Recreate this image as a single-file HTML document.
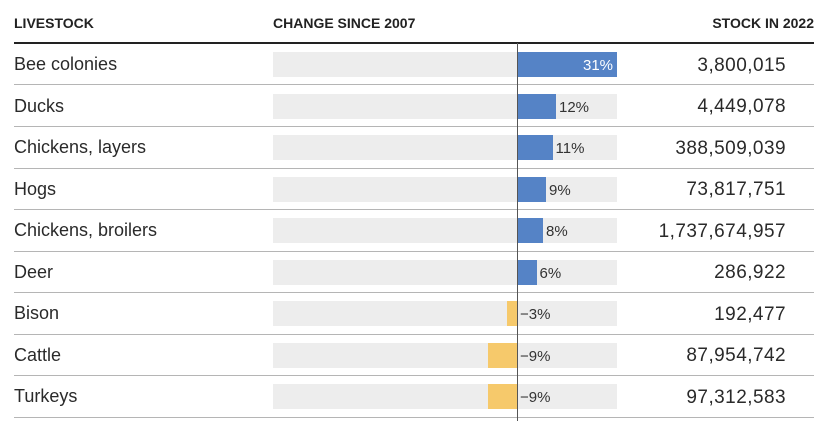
<!DOCTYPE html>
<html><head><meta charset="utf-8"><style>
*{margin:0;padding:0;box-sizing:border-box}
html,body{width:834px;height:421px;background:#fff;overflow:hidden}
body{position:relative;font-family:"Liberation Sans",Arial,sans-serif;color:#2a2a2a}
.h{position:absolute;top:16px;height:14px;line-height:14px;font-size:14px;font-weight:bold;color:#222;white-space:nowrap}
.hl{position:absolute;left:14px;width:800px;top:42px;height:2px;background:#222}
.sep{position:absolute;left:14px;width:800px;height:1px;background:#b5b5b5}
.name{position:absolute;left:14px;font-size:18px;white-space:nowrap}
.num{position:absolute;right:48px;font-size:19px;letter-spacing:0.45px;white-space:nowrap;text-align:right;margin-top:1.5px}
.bg{position:absolute;left:273px;width:344px;height:25px;background:#ededed}
.bar{position:absolute;height:25px}
.pos{background:#5583c6}
.neg{background:#f6c96b}
.lab{position:absolute;font-size:15px;white-space:nowrap;color:#333;margin-top:2px}
.axis{position:absolute;left:516.5px;top:43px;width:1px;height:378px;background:#555}
</style></head><body>
<div class="h" style="left:14px">LIVESTOCK</div>
<div class="h" style="left:273px">CHANGE SINCE 2007</div>
<div class="h" style="right:20px">STOCK IN 2022</div>
<div class="hl"></div>

<div class="name" style="top:43px;height:41.5px;line-height:42px">Bee colonies</div>
<div class="bg" style="top:52px"></div>
<div class="bar pos" style="top:52px;left:517px;width:100px"></div>
<div class="lab" style="top:43px;line-height:42px;left:583px;color:#fff">31%</div>
<div class="num" style="top:43px;line-height:42px">3,800,015</div>
<div class="sep" style="top:84px"></div>

<div class="name" style="top:84.5px;line-height:42px">Ducks</div>
<div class="bg" style="top:93.5px"></div>
<div class="bar pos" style="top:93.5px;left:517px;width:39px"></div>
<div class="lab" style="top:84.5px;line-height:42px;left:559px">12%</div>
<div class="num" style="top:84.5px;line-height:42px">4,449,078</div>
<div class="sep" style="top:126px"></div>

<div class="name" style="top:126px;line-height:42px">Chickens, layers</div>
<div class="bg" style="top:135px"></div>
<div class="bar pos" style="top:135px;left:517px;width:35.5px"></div>
<div class="lab" style="top:126px;line-height:42px;left:555.5px">11%</div>
<div class="num" style="top:126px;line-height:42px">388,509,039</div>
<div class="sep" style="top:167.5px"></div>

<div class="name" style="top:167.5px;line-height:42px">Hogs</div>
<div class="bg" style="top:176.5px"></div>
<div class="bar pos" style="top:176.5px;left:517px;width:29px"></div>
<div class="lab" style="top:167.5px;line-height:42px;left:549px">9%</div>
<div class="num" style="top:167.5px;line-height:42px">73,817,751</div>
<div class="sep" style="top:209px"></div>

<div class="name" style="top:209px;line-height:42px">Chickens, broilers</div>
<div class="bg" style="top:218px"></div>
<div class="bar pos" style="top:218px;left:517px;width:26px"></div>
<div class="lab" style="top:209px;line-height:42px;left:546px">8%</div>
<div class="num" style="top:209px;line-height:42px">1,737,674,957</div>
<div class="sep" style="top:250.5px"></div>

<div class="name" style="top:250.5px;line-height:42px">Deer</div>
<div class="bg" style="top:259.5px"></div>
<div class="bar pos" style="top:259.5px;left:517px;width:19.5px"></div>
<div class="lab" style="top:250.5px;line-height:42px;left:539.5px">6%</div>
<div class="num" style="top:250.5px;line-height:42px">286,922</div>
<div class="sep" style="top:292px"></div>

<div class="name" style="top:292px;line-height:42px">Bison</div>
<div class="bg" style="top:301px"></div>
<div class="bar neg" style="top:301px;left:507px;width:10px"></div>
<div class="lab" style="top:292px;line-height:42px;left:520px">−3%</div>
<div class="num" style="top:292px;line-height:42px">192,477</div>
<div class="sep" style="top:333.5px"></div>

<div class="name" style="top:333.5px;line-height:42px">Cattle</div>
<div class="bg" style="top:342.5px"></div>
<div class="bar neg" style="top:342.5px;left:488px;width:29px"></div>
<div class="lab" style="top:333.5px;line-height:42px;left:520px">−9%</div>
<div class="num" style="top:333.5px;line-height:42px">87,954,742</div>
<div class="sep" style="top:375px"></div>

<div class="name" style="top:375px;line-height:42px">Turkeys</div>
<div class="bg" style="top:384px"></div>
<div class="bar neg" style="top:384px;left:488px;width:29px"></div>
<div class="lab" style="top:375px;line-height:42px;left:520px">−9%</div>
<div class="num" style="top:375px;line-height:42px">97,312,583</div>
<div class="sep" style="top:416.5px"></div>

<div class="axis"></div>
</body></html>
